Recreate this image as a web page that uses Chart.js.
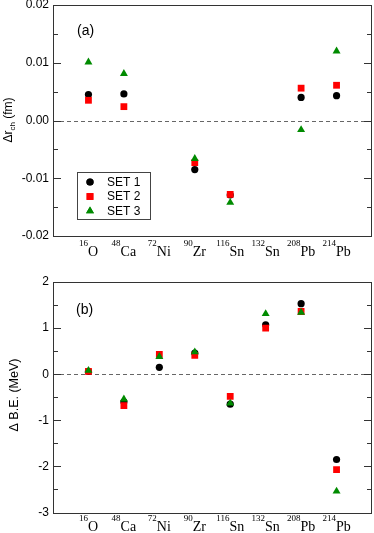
<!DOCTYPE html>
<html><head><meta charset="utf-8">
<script src="https://cdn.jsdelivr.net/npm/chart.js@4/dist/chart.umd.min.js"></script>
<style>
html,body{margin:0;padding:0;background:#fff;}
#wrap{position:relative;width:374px;height:533px;overflow:hidden;}
canvas{position:absolute;left:0;display:block;}
</style></head><body>
<div id="wrap">
<canvas id="c1" width="374" height="266" style="top:0;width:374px;height:266px"></canvas>
<canvas id="c2" width="374" height="267" style="top:266px;width:374px;height:267px"></canvas>
</div>
<script>
// ---- data ----
const massNumbers = ['16','48','72','90','116','132','208','214'];
const elements    = ['O','Ca','Ni','Zr','Sn','Sn','Pb','Pb'];
const seriesNames = ['SET 1','SET 2','SET 3'];
const drCh_set1 = [0.0045, 0.0046, null, -0.0085, -0.0129, null, 0.0040, 0.0043];
const drCh_set2 = [0.0035, 0.0024, null, -0.0073, -0.0128, null, 0.0056, 0.0061];
const drCh_set3 = [0.0101, 0.0081, null, -0.0066, -0.0142, null, -0.0016, 0.0120];
const dBE_set1 = [0.06, -0.60, 0.15, 0.46, -0.65, 1.07, 1.53, -1.85];
const dBE_set2 = [0.06, -0.68, 0.43, 0.41, -0.48, 1.00, 1.36, -2.07];
const dBE_set3 = [0.08, -0.54, 0.38, 0.48, -0.63, 1.31, 1.34, -2.54];
const yRangeA = [-0.02, 0.02], yMajorStepA = 0.01, yMinorStepA = 0.005;
const yRangeB = [-3, 2],       yMajorStepB = 1,    yMinorStepB = 0.5;

const setColors = ['#000000', '#ff0000', '#008b00'];
const setStyles = ['circle', 'rect', 'triangle'];
const setRadius = [3.6, 4.8, 4.6];

function toPoints(arr) {
  return arr.map((v, i) => ({x: i + 1, y: v})).filter(p => p.y !== null);
}
function makeDatasets(sets) {
  return sets.map((s, k) => ({
    label: seriesNames[k],
    data: toPoints(s),
    pointStyle: setStyles[k],
    pointRadius: setRadius[k],
    pointHoverRadius: setRadius[k],
    backgroundColor: setColors[k],
    borderColor: setColors[k],
    borderWidth: 0,
    showLine: false,
    order: 3 - k
  }));
}

const SANS = "'Liberation Sans', Arial, sans-serif";
const SERIF = "'Liberation Serif', 'Times New Roman', serif";

const framePlugin = {
  id: 'frame',
  beforeDatasetsDraw(chart, args, o) {
    const {ctx, chartArea: a} = chart;
    const y = chart.scales.y;
    ctx.save();
    const y0 = Math.round(y.getPixelForValue(0)) + 0.5;
    ctx.strokeStyle = '#666'; ctx.lineWidth = 1; ctx.setLineDash([4, 3]);
    ctx.beginPath(); ctx.moveTo(a.left, y0); ctx.lineTo(a.right, y0); ctx.stroke();
    ctx.setLineDash([]);
    ctx.strokeStyle = '#333';
    y.ticks.forEach(t => {
      const py = Math.round(y.getPixelForValue(t.value)) + 0.5;
      const len = t.label !== '' ? 8 : 5;
      ctx.beginPath();
      ctx.moveTo(a.left, py); ctx.lineTo(a.left + len, py);
      ctx.moveTo(a.right, py); ctx.lineTo(a.right - len, py);
      ctx.stroke();
    });
    ctx.strokeRect(Math.round(a.left) + 0.5, Math.round(a.top) + 0.5,
                   Math.round(a.right - a.left) - 1, Math.round(a.bottom - a.top));
    ctx.restore();
  },
  afterDraw(chart, args, o) {
    const {ctx, chartArea: a} = chart;
    const x = chart.scales.x;
    ctx.save();
    ctx.fillStyle = '#000';
    ctx.textBaseline = 'alphabetic';
    // category labels with superscript mass numbers
    const base = a.bottom + o.labelOffset;
    massNumbers.forEach((m, i) => {
      ctx.font = '9px ' + SERIF;
      const wm = ctx.measureText(m).width;
      ctx.font = '14px ' + SERIF;
      const we = ctx.measureText(elements[i]).width;
      const cx = x.getPixelForValue(i + 1);
      const x0 = cx - (wm + we) / 2;
      ctx.font = '9px ' + SERIF;
      ctx.textAlign = 'left';
      ctx.fillText(m, x0, base - 10);
      ctx.font = '14px ' + SERIF;
      ctx.fillText(elements[i], x0 + wm, base);
    });
    // panel label
    ctx.font = '14px ' + SANS;
    ctx.fillText(o.panel, o.panelX, o.panelY);
    // y title
    ctx.translate(o.titleX, o.titleY);
    ctx.rotate(-Math.PI / 2);
    let total = 0;
    o.title.forEach(p => { ctx.font = p.size + 'px ' + SANS; total += ctx.measureText(p.t).width; });
    let px = -total / 2;
    o.title.forEach(p => {
      ctx.font = p.size + 'px ' + SANS;
      ctx.fillText(p.t, px, p.dy || 0);
      px += ctx.measureText(p.t).width;
    });
    ctx.setTransform(1, 0, 0, 1, 0, 0);
    // legend
    if (o.legend) {
      const L = o.legend;
      ctx.strokeStyle = '#444'; ctx.lineWidth = 1;
      ctx.strokeRect(L.x + 0.5, L.y + 0.5, L.w, L.h);
      chart.data.datasets.forEach((ds, k) => {
        const ry = L.y + L.first + k * L.step;
        ctx.fillStyle = ds.backgroundColor;
        ctx.strokeStyle = ds.borderColor;
        Chart.helpers.drawPoint(ctx, {pointStyle: ds.pointStyle, radius: ds.pointRadius, borderWidth: 0, rotation: 0}, L.x + 13, ry);
        ctx.fill();
        ctx.fillStyle = '#000';
        ctx.font = '12px ' + SANS;
        ctx.textBaseline = 'middle';
        ctx.fillText(ds.label, L.x + 30, ry + 0.5);
        ctx.textBaseline = 'alphabetic';
      });
    }
    ctx.restore();
  }
};

function makeChart(id, sets, range, majorStep, minorStep, decimals, padTop, xHeight, pOpts) {
  return new Chart(document.getElementById(id), {
    type: 'scatter',
    data: {datasets: makeDatasets(sets)},
    options: {
      responsive: false, animation: false, devicePixelRatio: 1,
      layout: {padding: {top: padTop, left: 0, right: 2, bottom: 0}, autoPadding: false},
      plugins: {legend: {display: false}, tooltip: {enabled: false}, frame: pOpts},
      scales: {
        x: {type: 'linear', min: 0, max: 9,
            ticks: {display: false}, grid: {display: false, drawTicks: false}, border: {display: false},
            afterFit: s => { s.height = xHeight; s.paddingLeft = 0; s.paddingRight = 0; }},
        y: {type: 'linear', min: range[0], max: range[1],
            ticks: {stepSize: minorStep, autoSkip: false, padding: 4, color: '#000',
                    font: {family: SANS, size: 12},
                    callback: v => {
                      const r = v / majorStep;
                      if (Math.abs(r - Math.round(r)) > 1e-6) return '';
                      const val = Math.round(r) * majorStep;
                      return (Math.abs(val) < 1e-12 ? 0 : val).toFixed(decimals);
                    }},
            grid: {display: false, drawTicks: false}, border: {display: false},
            afterFit: s => { s.width = 53; s.paddingTop = 0; s.paddingBottom = 0; }}
      }
    },
    plugins: [framePlugin]
  });
}

makeChart('c1', [drCh_set1, drCh_set2, drCh_set3], yRangeA, yMajorStepA, yMinorStepA, 2, 5, 30, {
  labelOffset: 19.5, panel: '(a)', panelX: 77, panelY: 35,
  titleX: 11.5, titleY: 120,
  title: [{t: 'Δr', size: 12}, {t: 'ch', size: 8, dy: 3}, {t: ' (fm)', size: 12}],
  legend: {x: 77, y: 172, w: 73, h: 47, first: 10, step: 14.5}
});
makeChart('c2', [dBE_set1, dBE_set2, dBE_set3], yRangeB, yMajorStepB, yMinorStepB, 0, 16, 20.5, {
  labelOffset: 18.5, panel: '(b)', panelX: 76, panelY: 47.5,
  titleX: 17.5, titleY: 129,
  title: [{t: 'Δ B.E. (MeV)', size: 12.5}],
  legend: null
});
</script>
</body></html>
